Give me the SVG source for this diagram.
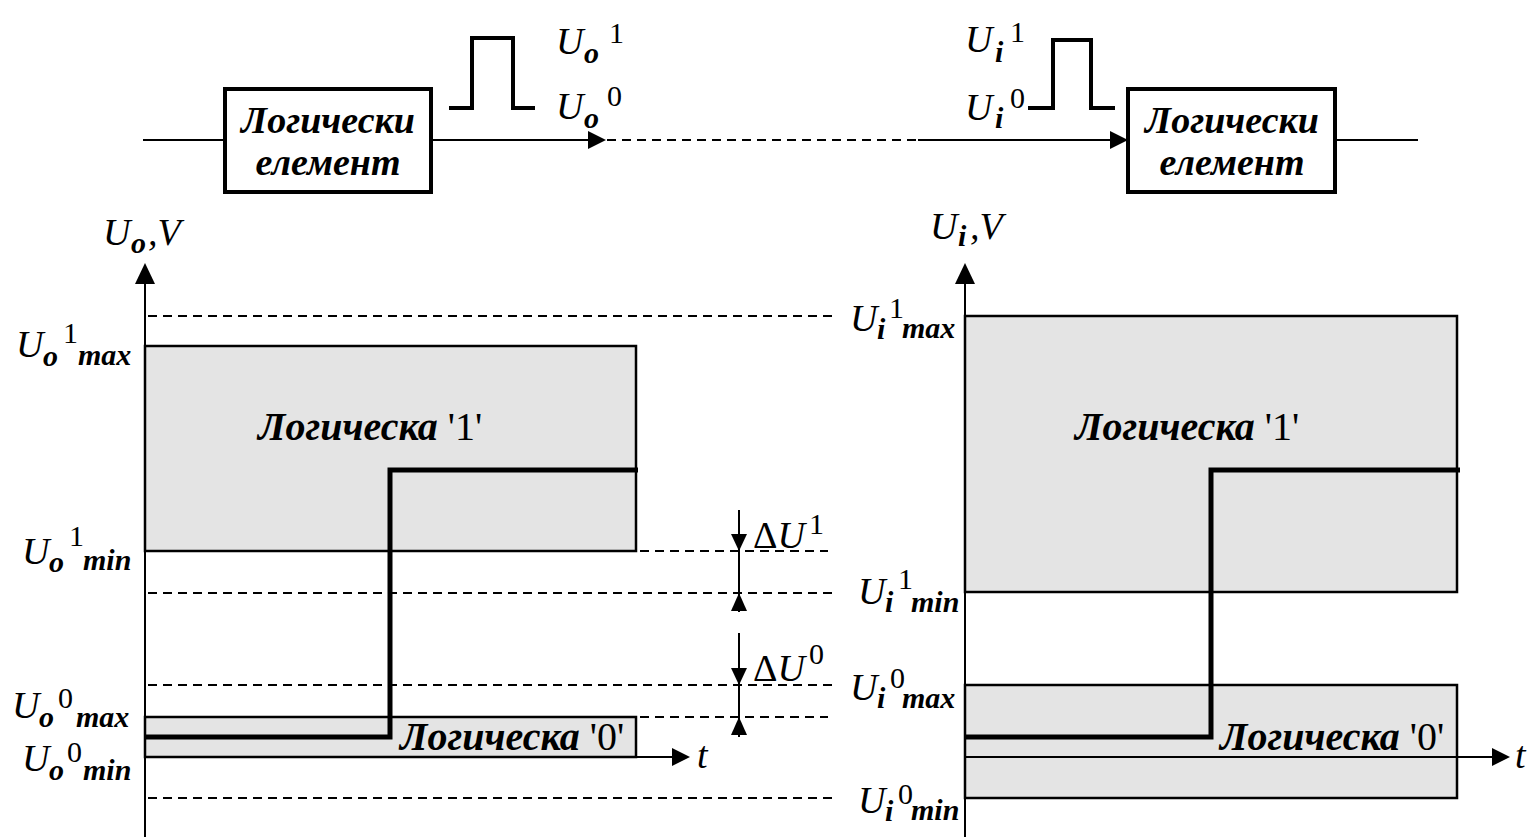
<svg xmlns="http://www.w3.org/2000/svg" width="1529" height="837" viewBox="0 0 1529 837">
<style>
.thin{stroke:#000;stroke-width:2;fill:none}
.dash{stroke:#000;stroke-width:2;fill:none;stroke-dasharray:9 6}
.box{stroke:#000;stroke-width:4;fill:#fff}
.zone{stroke:#000;stroke-width:2.5;fill:#e4e4e4}
.thick{stroke:#000;stroke-width:5;fill:none}
.pulse{stroke:#000;stroke-width:4;fill:none}
.ah{fill:#000;stroke:none}
text{font-family:"Liberation Serif","Times New Roman",serif;fill:#000}
.it{font-style:italic}
.b{font-weight:bold}
.big{font-size:38px}
.sm{font-size:30px}
.lbl{font-size:38px}
.zl{font-size:40px}
</style>
<rect width="1529" height="837" fill="#fff"/>

<g id="zones">
<rect class="zone" x="145" y="346" width="491" height="205"/>
<rect class="zone" x="145" y="717" width="491" height="40"/>
<rect class="zone" x="965" y="316" width="492" height="276"/>
<rect class="zone" x="965" y="685" width="492" height="113"/>
</g>

<g id="connectors">
<line class="thin" x1="143" y1="140" x2="225" y2="140"/>
<line class="thin" x1="431" y1="140" x2="592" y2="140"/>
<polygon class="ah" points="606,140 588,131 588,149"/>
<line class="dash" x1="607" y1="140" x2="918" y2="140"/>
<line class="thin" x1="918" y1="140" x2="1114" y2="140"/>
<polygon class="ah" points="1128,140 1110,131 1110,149"/>
<line class="thin" x1="1335" y1="140" x2="1418" y2="140"/>
<polyline class="pulse" points="449,108 472,108 472,38 513,38 513,108 535,108"/>
<polyline class="pulse" points="1028,108 1053,108 1053,40 1091,40 1091,108 1115,108"/>

<line class="thin" x1="145" y1="278" x2="145" y2="837"/>
<polygon class="ah" points="145,263 135,284 155,284"/>
<line class="thin" x1="145" y1="757" x2="676" y2="757"/>
<polygon class="ah" points="690,757 672,748 672,766"/>
<line class="thin" x1="965" y1="278" x2="965" y2="837"/>
<polygon class="ah" points="965,263 955,284 975,284"/>
<line class="thin" x1="965" y1="757" x2="1496" y2="757"/>
<polygon class="ah" points="1510,757 1492,748 1492,766"/>

<line class="dash" x1="148" y1="316" x2="832" y2="316"/>
<line class="dash" x1="640" y1="551" x2="828" y2="551"/>
<line class="dash" x1="148" y1="593" x2="832" y2="593"/>
<line class="dash" x1="148" y1="685" x2="832" y2="685"/>
<line class="dash" x1="640" y1="717" x2="828" y2="717"/>
<line class="dash" x1="148" y1="798" x2="832" y2="798"/>

<line class="thin" x1="739" y1="510" x2="739" y2="612"/>
<polygon class="ah" points="739,551 731,534 747,534"/>
<polygon class="ah" points="739,593 731,611 747,611"/>
<line class="thin" x1="739" y1="633" x2="739" y2="737"/>
<polygon class="ah" points="739,685 731,668 747,668"/>
<polygon class="ah" points="739,717 731,735 747,735"/>

<polyline class="thick" points="145,737 390,737 390,470 638,470"/>
<polyline class="thick" points="965,737 1211,737 1211,470 1460,470"/>
</g>

<g id="node-out">
<rect class="box" x="225" y="89" width="206" height="103"/>
<text class="it b lbl" x="328" y="133" text-anchor="middle">Логически</text>
<text class="it b lbl" x="328" y="175" text-anchor="middle">елемент</text>
</g>
<g id="node-in">
<rect class="box" x="1128" y="89" width="207" height="103"/>
<text class="it b lbl" x="1232" y="133" text-anchor="middle">Логически</text>
<text class="it b lbl" x="1232" y="175" text-anchor="middle">елемент</text>
</g>

<g id="labels-top">
<text class="it big" x="556" y="54">U</text><text class="it b sm" x="584" y="63">o</text><text class="sm" x="609" y="43">1</text>
<text class="it big" x="556" y="119">U</text><text class="it b sm" x="584" y="128">o</text><text class="sm" x="607" y="106">0</text>
<text class="it big" x="965" y="52">U</text><text class="it b sm" x="995" y="62">i</text><text class="sm" x="1010" y="42">1</text>
<text class="it big" x="965" y="120">U</text><text class="it b sm" x="995" y="128">i</text><text class="sm" x="1010" y="108">0</text>
</g>

<g id="labels-left">
<text class="it big" x="103" y="245">U</text><text class="it b sm" x="131" y="253">o</text><text class="it big" x="148" y="245">,V</text>
<text class="it big" x="16" y="357">U</text><text class="it b sm" x="43" y="366">o</text><text class="sm" x="63" y="343">1</text><text class="it b sm" x="78" y="365">max</text>
<text class="it big" x="22" y="564">U</text><text class="it b sm" x="49" y="572">o</text><text class="sm" x="69" y="546">1</text><text class="it b sm" x="83" y="570">min</text>
<text class="it big" x="12" y="718">U</text><text class="it b sm" x="39" y="727">o</text><text class="sm" x="58" y="708">0</text><text class="it b sm" x="76" y="727">max</text>
<text class="it big" x="22" y="771">U</text><text class="it b sm" x="49" y="780">o</text><text class="sm" x="67" y="762">0</text><text class="it b sm" x="83" y="780">min</text>
<text class="it b zl" x="258" y="440">Логическа <tspan font-style="normal" font-weight="normal">'1'</tspan></text>
<text class="it b zl" x="400" y="750">Логическа <tspan font-style="normal" font-weight="normal">'0'</tspan></text>
<text class="it big" x="697" y="768">t</text>
<text class="big" x="753" y="548">Δ<tspan class="it">U</tspan></text><text class="sm" x="809" y="534">1</text>
<text class="big" x="753" y="681">Δ<tspan class="it">U</tspan></text><text class="sm" x="809" y="664">0</text>
</g>

<g id="labels-right">
<text class="it big" x="930" y="239">U</text><text class="it b sm" x="958" y="246">i</text><text class="it big" x="970" y="239">,V</text>
<text class="it big" x="850" y="331">U</text><text class="it b sm" x="877" y="339">i</text><text class="sm" x="889" y="318">1</text><text class="it b sm" x="902" y="338">max</text>
<text class="it big" x="858" y="604">U</text><text class="it b sm" x="885" y="612">i</text><text class="sm" x="898" y="589">1</text><text class="it b sm" x="911" y="612">min</text>
<text class="it big" x="850" y="700">U</text><text class="it b sm" x="877" y="708">i</text><text class="sm" x="890" y="688">0</text><text class="it b sm" x="902" y="708">max</text>
<text class="it big" x="858" y="813">U</text><text class="it b sm" x="885" y="821">i</text><text class="sm" x="898" y="804">0</text><text class="it b sm" x="911" y="820">min</text>
<text class="it b zl" x="1075" y="440">Логическа <tspan font-style="normal" font-weight="normal">'1'</tspan></text>
<text class="it b zl" x="1220" y="750">Логическа <tspan font-style="normal" font-weight="normal">'0'</tspan></text>
<text class="it big" x="1515" y="768">t</text>
</g>
</svg>
